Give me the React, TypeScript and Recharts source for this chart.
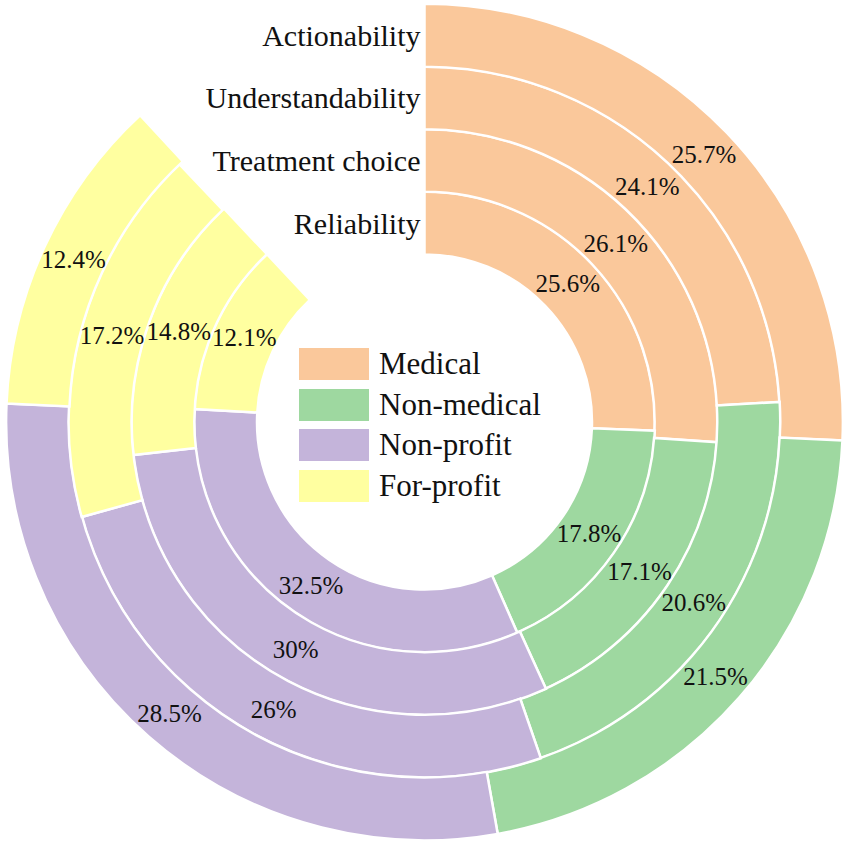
import {
  Legend,
  LabelList,
  PolarAngleAxis,
  PolarRadiusAxis,
  RadialBar,
  RadialBarChart,
} from 'recharts'

// rings, innermost first
const categories = ['Reliability', 'Treatment choice', 'Understandability', 'Actionability']
const medical = [25.6, 26.1, 24.1, 25.7]
const nonMedical = [17.8, 17.1, 20.6, 21.5]
const nonProfit = [32.5, 30, 26, 28.5]
const forProfit = [12.1, 14.8, 17.2, 12.4]

const SERIES = [
  { key: 'medical', name: 'Medical', color: '#FAC89B' },
  { key: 'nonMedical', name: 'Non-medical', color: '#9ED8A0' },
  { key: 'nonProfit', name: 'Non-profit', color: '#C4B4DA' },
  { key: 'forProfit', name: 'For-profit', color: '#FFFFA0' },
]

const data = categories.map((name, i) => ({
  name,
  medical: medical[i],
  nonMedical: nonMedical[i],
  nonProfit: nonProfit[i],
  forProfit: forProfit[i],
}))

const FONT = '"Liberation Serif", "Times New Roman", serif'
const RAD = Math.PI / 180

const renderLabel = (props: any) => {
  const { viewBox, value } = props
  if (!viewBox || viewBox.cx == null) return null
  const { cx, cy, innerRadius, outerRadius, startAngle, endAngle } = viewBox
  const a = ((startAngle + endAngle) / 2) * RAD
  const r = (innerRadius + outerRadius) / 2
  return (
    <text
      x={cx + r * Math.cos(a)}
      y={cy - r * Math.sin(a)}
      textAnchor="middle"
      dominantBaseline="central"
      style={{ fontFamily: FONT, fontSize: 25 }}
      fill="#111"
    >
      {value}%
    </text>
  )
}

const renderTick = (props: any) => {
  const { x, y, payload } = props
  return (
    <text
      x={x - 4}
      y={y}
      textAnchor="end"
      dominantBaseline="central"
      style={{ fontFamily: FONT, fontSize: 30 }}
      fill="#111"
    >
      {payload.value}
    </text>
  )
}

const renderLegend = () => (
  <div style={{ fontFamily: FONT, fontSize: 31, color: '#111' }}>
    {SERIES.map((s) => (
      <div key={s.key} style={{ display: 'flex', alignItems: 'center', height: 40.5 }}>
        <div style={{ width: 70, height: 32, background: s.color, marginRight: 10 }} />
        <span style={{ lineHeight: '32px' }}>{s.name}</span>
      </div>
    ))}
  </div>
)

export default function App() {
  return (
    <div style={{ position: 'absolute', left: 0, top: 0, background: '#fff' }}>
      <RadialBarChart
        width={851}
        height={845}
        data={data}
        cx={424.5}
        cy={422}
        innerRadius={167.5}
        outerRadius={418}
        startAngle={90}
        endAngle={-270}
        barCategoryGap={0}
        barGap={0}
        margin={{ top: 0, right: 0, bottom: 0, left: 0 }}
      >
        <PolarAngleAxis type="number" domain={[0, 100]} tick={false} axisLine={false} />
        <PolarRadiusAxis
          type="category"
          dataKey="name"
          angle={90}
          axisLine={false}
          tickLine={false}
          tick={renderTick}
        />
        {SERIES.map((s) => (
          <RadialBar
            key={s.key}
            dataKey={s.key}
            name={s.name}
            stackId="a"
            fill={s.color}
            stroke="#fff"
            strokeWidth={2.5}
            isAnimationActive={false}
          >
            <LabelList dataKey={s.key} content={renderLabel} />
          </RadialBar>
        ))}
        <Legend
          content={renderLegend}
          wrapperStyle={{ position: 'absolute', left: 299, top: 344, width: 260 }}
        />
      </RadialBarChart>
    </div>
  )
}
